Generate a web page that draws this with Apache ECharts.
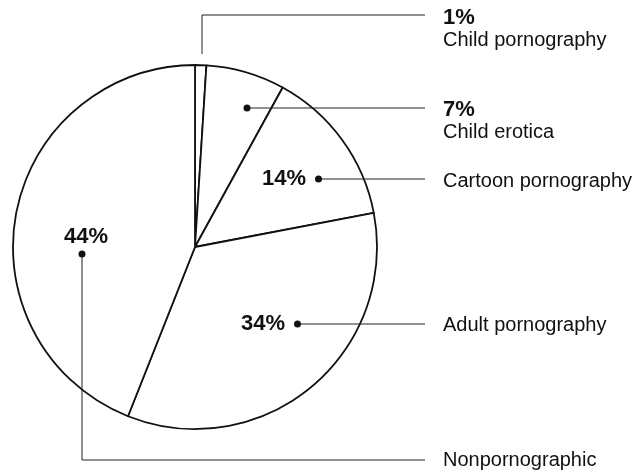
<!DOCTYPE html>
<html>
<head>
<meta charset="utf-8">
<script src="https://cdn.jsdelivr.net/npm/echarts@6/dist/echarts.min.js"></script>
<style>
  html, body { margin: 0; padding: 0; background: #fff; }
  #chart { width: 637px; height: 470px; }
</style>
</head>
<body>
<div id="chart"></div>
<script>
// data ==========================================
const categories = ['Child pornography', 'Child erotica', 'Cartoon pornography', 'Adult pornography', 'Nonpornographic'];
const shares = [1, 7, 14, 34, 44];

// layout of the callouts (pixels) ===============
const textX = 443;
const nameY = [29, 121, 181, 325, 460];
const leaderPoints = [
    [[202, 54], [202, 15], [425, 15]],
    [[247, 108], [336, 108], [425, 108]],
    [[319, 179], [372, 179], [425, 179]],
    [[298, 324], [361, 324], [425, 324]],
    [[82, 253], [82, 460], [425, 460]]
];
// where the percent/dot label sits for each slice
const pctAnchor = [
    null,
    { x: 247, y: 108, align: 'center', verticalAlign: 'middle' },
    { x: 322, y: 179, align: 'right', verticalAlign: 'middle' },
    { x: 301, y: 324, align: 'right', verticalAlign: 'middle' },
    { x: 82, y: 225, align: 'center', verticalAlign: 'top' }
];

const FONT = '"Liberation Sans", Arial, Helvetica, sans-serif';
const INK = '#111';
const pieCenter = [195, 247];
const pieRadius = 182;

const pieData = categories.map((name, i) => ({ name: name, value: shares[i] }));

// shared pie geometry
function basePie(extra) {
    return Object.assign({
        type: 'pie',
        center: pieCenter,
        radius: pieRadius,
        startAngle: 90,
        clockwise: true,
        avoidLabelOverlap: false,
        silent: true
    }, extra);
}

const chart = echarts.init(document.getElementById('chart'));

const option = {
    animation: false,
    backgroundColor: '#fff',
    series: [
        // 扇区
        basePie({
            z: 1,
            data: pieData,
            itemStyle: { color: '#fff', borderColor: INK, borderWidth: 1.8 },
            label: { show: false },
            labelLine: { show: false }
        }),
        // 名称 + 引线
        basePie({
            z: 2,
            data: pieData,
            itemStyle: { color: 'rgba(0,0,0,0)', borderWidth: 0 },
            label: {
                show: true,
                position: 'outside',
                fontFamily: FONT,
                color: INK,
                formatter: function (p) {
                    if (p.dataIndex < 2) return '{p|' + shares[p.dataIndex] + '%}\n{n|' + p.name + '}';
                    return '{n|' + p.name + '}';
                },
                rich: {
                    p: { fontFamily: FONT, fontSize: 22, fontWeight: 'bold', color: INK, lineHeight: 22 },
                    n: { fontFamily: FONT, fontSize: 20, color: INK, lineHeight: 23 }
                }
            },
            labelLine: { show: true, smooth: false, length: 10, length2: 10, lineStyle: { color: '#222', width: 1 } },
            labelLayout: function (params) {
                const i = params.dataIndex;
                return {
                    x: textX,
                    y: nameY[i],
                    align: 'left',
                    verticalAlign: 'middle',
                    labelLinePoints: leaderPoints[i]
                };
            }
        }),
        // 百分比 + 圆点
        basePie({
            z: 3,
            data: pieData.map((d, i) => ({
                name: d.name,
                value: d.value,
                label: { show: pctAnchor[i] != null }
            })),
            itemStyle: { color: 'rgba(0,0,0,0)', borderWidth: 0 },
            label: {
                position: 'inside',
                formatter: function (p) {
                    const i = p.dataIndex;
                    if (i === 1) return '{dot| }';
                    if (i === 4) return '{p|' + shares[i] + '%}\n{dot| }';
                    return '{pr|' + shares[i] + '%}{dot| }';
                },
                rich: {
                    p: { fontFamily: FONT, fontSize: 22, fontWeight: 'bold', color: INK, lineHeight: 24, padding: [0, 0, 0, 8] },
                    pr: { fontFamily: FONT, fontSize: 22, fontWeight: 'bold', color: INK, lineHeight: 24, padding: [0, 9, 0, 0] },
                    dot: { width: 7, height: 7, lineHeight: 10, borderRadius: 3.5, backgroundColor: INK, fontSize: 1 }
                }
            },
            labelLine: { show: false },
            labelLayout: function (params) {
                const a = pctAnchor[params.dataIndex];
                if (!a) return {};
                return { x: a.x, y: a.y, align: a.align, verticalAlign: a.verticalAlign };
            }
        })
    ]
};
chart.setOption(option);
</script>
</body>
</html>
